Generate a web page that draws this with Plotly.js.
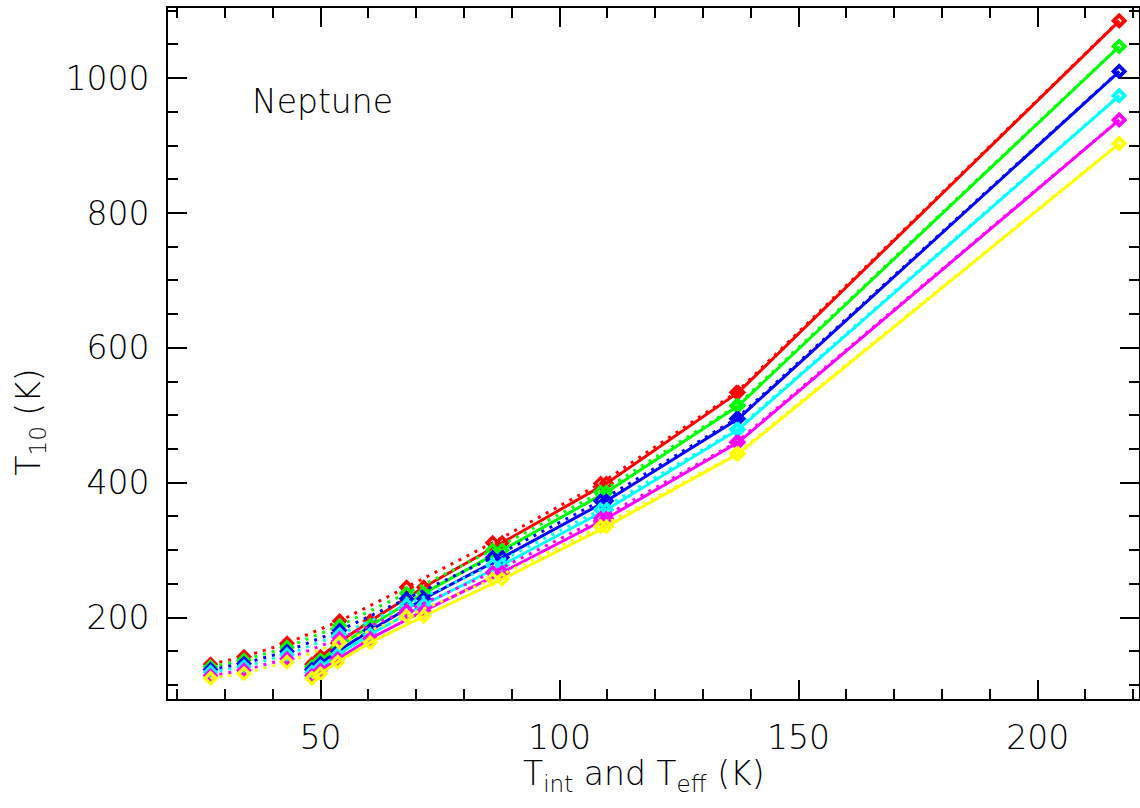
<!DOCTYPE html>
<html>
<head>
<meta charset="utf-8">
<script src="https://cdn.plot.ly/plotly-3.0.1.min.js"></script>
<style>html,body{margin:0;padding:0;background:#fff;}#chart{width:1140px;height:808px;}</style>
</head>
<body>
<div id="chart"></div>
<script>
// Internal temperature (dotted curves) and effective temperature (solid curves), K
const T_int = [27, 34, 43, 54, 68, 86, 108.6, 137, 217];
const T_eff = [48.2, 50, 53.6, 60.4, 71.6, 88, 109.8, 137.4, 217.1];

// T10 (K) for each model family
const T10_red     = [131, 142, 162, 195, 245, 311, 399, 534, 1085];
const T10_green   = [127, 137, 156, 188, 236, 300, 386, 514, 1047];
const T10_blue    = [123, 132, 150, 181, 228, 289, 373, 495, 1010];
const T10_cyan    = [119, 127, 145, 175, 219, 278, 360, 479, 974];
const T10_magenta = [114, 122, 139, 169, 210, 267, 347, 460, 938];
const T10_yellow  = [110, 117, 134, 163, 202, 257, 335, 443, 903];

const seriesNames = ['red', 'green', 'blue', 'cyan', 'magenta', 'yellow'];
const seriesValues = [T10_red, T10_green, T10_blue, T10_cyan, T10_magenta, T10_yellow];
const seriesColors = ['#ff0000', '#00ff00', '#0000ff', '#00ffff', '#ff00ff', '#ffff00'];

const xTickVals = [50, 100, 150, 200];
const yTickVals = [200, 400, 600, 800, 1000];

const traces = [];
seriesValues.forEach((vals, k) => {
  const col = seriesColors[k];
  traces.push({
    x: T_int, y: vals, type: 'scatter', mode: 'lines+markers', name: seriesNames[k] + ' T_int',
    line: {color: col, width: 3, dash: '3px,6px'},
    marker: {symbol: 'diamond-open', size: 8.5, color: col, line: {color: col, width: 3.4}},
    showlegend: false, hoverinfo: 'x+y'
  });
  traces.push({
    x: T_eff, y: vals, type: 'scatter', mode: 'lines+markers', name: seriesNames[k] + ' T_eff',
    line: {color: col, width: 3},
    marker: {symbol: 'diamond-open', size: 8.5, color: col, line: {color: col, width: 3.4}},
    showlegend: false, hoverinfo: 'x+y'
  });
});

const fontFam = '"DejaVu Sans", sans-serif';
const fsz = 33;
const layout = {
  width: 1140, height: 808,
  margin: {l: 168, r: 1, t: 8, b: 109, pad: 0},
  paper_bgcolor: '#ffffff', plot_bgcolor: '#ffffff',
  font: {family: fontFam, size: fsz, color: '#000', weight: 200},
  showlegend: false,
  xaxis: {
    range: [18.1, 221.2], tickvals: xTickVals, ticktext: xTickVals.map(String),
    ticks: 'inside', ticklen: 19, tickwidth: 2, tickcolor: '#000',
    showline: true, linewidth: 2, linecolor: '#000', mirror: 'allticks',
    showgrid: false, zeroline: false, ticklabelstandoff: 8,
    tickfont: {family: fontFam, size: fsz, color: '#000', weight: 200},
    minor: {dtick: 10, tick0: 0, ticks: 'inside', ticklen: 10, tickwidth: 2, tickcolor: '#000', showgrid: false}
  },
  yaxis: {
    range: [79.3, 1104], tickvals: yTickVals, ticktext: yTickVals.map(String),
    ticks: 'inside', ticklen: 19, tickwidth: 2, tickcolor: '#000',
    showline: true, linewidth: 2, linecolor: '#000', mirror: 'allticks',
    showgrid: false, zeroline: false, ticklabelstandoff: 10,
    tickfont: {family: fontFam, size: fsz, color: '#000', weight: 200},
    minor: {dtick: 50, tick0: 0, ticks: 'inside', ticklen: 10, tickwidth: 2, tickcolor: '#000', showgrid: false}
  },
  annotations: [
    {
      text: 'Neptune', xref: 'paper', yref: 'paper', x: 0.0845, y: 0.864,
      xanchor: 'left', yanchor: 'middle', showarrow: false,
      font: {family: fontFam, size: fsz, color: '#000', weight: 200}
    },
    {
      text: 'T<sub>int</sub> and T<sub>eff</sub> (K)', xref: 'paper', yref: 'paper', x: 0.49, y: -0.11,
      xanchor: 'center', yanchor: 'middle', showarrow: false,
      font: {family: fontFam, size: fsz, color: '#000', weight: 200}
    },
    {
      text: 'T<sub>10</sub> (K)', xref: 'paper', yref: 'paper', x: -0.142, y: 0.40, textangle: -90,
      xanchor: 'center', yanchor: 'middle', showarrow: false,
      font: {family: fontFam, size: fsz, color: '#000', weight: 200}
    }
  ]
};

Plotly.newPlot('chart', traces, layout, {displayModeBar: false, staticPlot: true});
</script>
</body>
</html>
